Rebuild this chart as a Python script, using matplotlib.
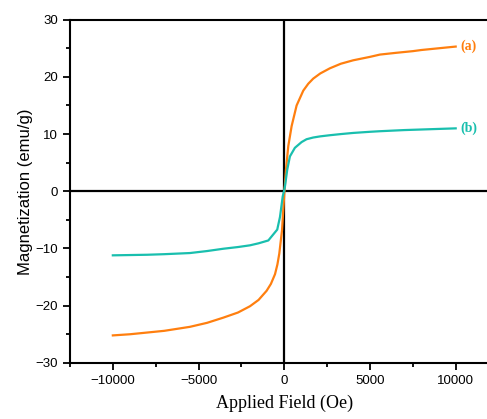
import matplotlib
matplotlib.use("Agg")
import matplotlib.pyplot as plt
from matplotlib.ticker import MultipleLocator

# sample (a): orange curve, field in Oe, magnetization in emu/g
field_a = [-10000, -9000, -8000, -7000, -5500, -4500, -3560, -2700, -2000, -1500,
           -1030, -780, -540, -400, -290, -130, 0,
           100, 235, 430, 720, 1110, 1400, 1690, 2100, 2660, 3300, 4020, 5000,
           5580, 6500, 7500, 8000, 9000, 10000]
mag_a = [-25.2, -25.0, -24.7, -24.4, -23.7, -23.0, -22.1, -21.2, -20.1, -19.0,
         -17.4, -16.2, -14.5, -12.8, -10.9, -6.8, -0.5,
         3.8, 7.9, 11.4, 15.0, 17.6, 18.8, 19.7, 20.6, 21.5, 22.3, 22.9, 23.5,
         23.9, 24.2, 24.5, 24.7, 25.0, 25.3]

# sample (b): teal curve
field_b = [-10000, -9000, -8000, -7000, -5500, -4500, -3560, -2700, -2000, -1500,
           -930, -410, -250, -90, 0,
           40, 175, 330, 620, 1010, 1300, 1690, 2100, 2660, 3300, 4020, 5000,
           5580, 7000, 8000, 9000, 10000]
mag_b = [-11.2, -11.15, -11.1, -11.0, -10.8, -10.45, -10.05, -9.75, -9.45, -9.1,
         -8.6, -6.7, -4.5, -0.9, 0.2,
         0.85, 3.8, 6.1, 7.6, 8.6, 9.1, 9.4, 9.6, 9.8, 10.0, 10.2, 10.4,
         10.5, 10.7, 10.8, 10.9, 11.0]

col_a = "#FF7F0F"
col_b = "#19BFAE"

fig = plt.figure(figsize=(4.87, 4.19), dpi=100)
ax = fig.add_axes([0.1437, 0.134, 0.880, 0.819])

ax.axhline(0, color="black", lw=1.6, zorder=1)
ax.axvline(0, color="black", lw=1.6, zorder=1)
ax.plot(field_a, mag_a, color=col_a, lw=1.6, zorder=3)
ax.plot(field_b, mag_b, color=col_b, lw=1.6, zorder=3)

serif = ["Liberation Serif", "DejaVu Serif"]
sans = ["Liberation Sans", "DejaVu Sans"]
ax.text(10300, mag_a[-1], "(a)", color=col_a, fontsize=10, fontweight="bold",
        family=serif, ha="left", va="center")
ax.text(10300, mag_b[-1], "(b)", color=col_b, fontsize=10, fontweight="bold",
        family=serif, ha="left", va="center")

ax.set_xlim(-12500, 12500)
ax.set_ylim(-30, 30)
ax.xaxis.set_major_locator(MultipleLocator(5000))
ax.xaxis.set_minor_locator(MultipleLocator(2500))
ax.yaxis.set_major_locator(MultipleLocator(10))
ax.yaxis.set_minor_locator(MultipleLocator(5))
ax.tick_params(which="both", direction="out", width=1.3, top=False, right=False,
               labelsize=9.5)
ax.tick_params(which="major", length=5)
ax.tick_params(which="minor", length=3)
for lab in ax.get_xticklabels() + ax.get_yticklabels():
    lab.set_family(sans)

for s in ("left", "bottom", "top"):
    ax.spines[s].set_linewidth(1.5)
ax.spines["right"].set_visible(False)

ax.set_xlabel("Applied Field (Oe)", family=serif, fontsize=13, labelpad=6)
ax.set_ylabel("Magnetization (emu/g)", family=sans, fontsize=12, labelpad=2)

fig.savefig("out.png", dpi=100)
